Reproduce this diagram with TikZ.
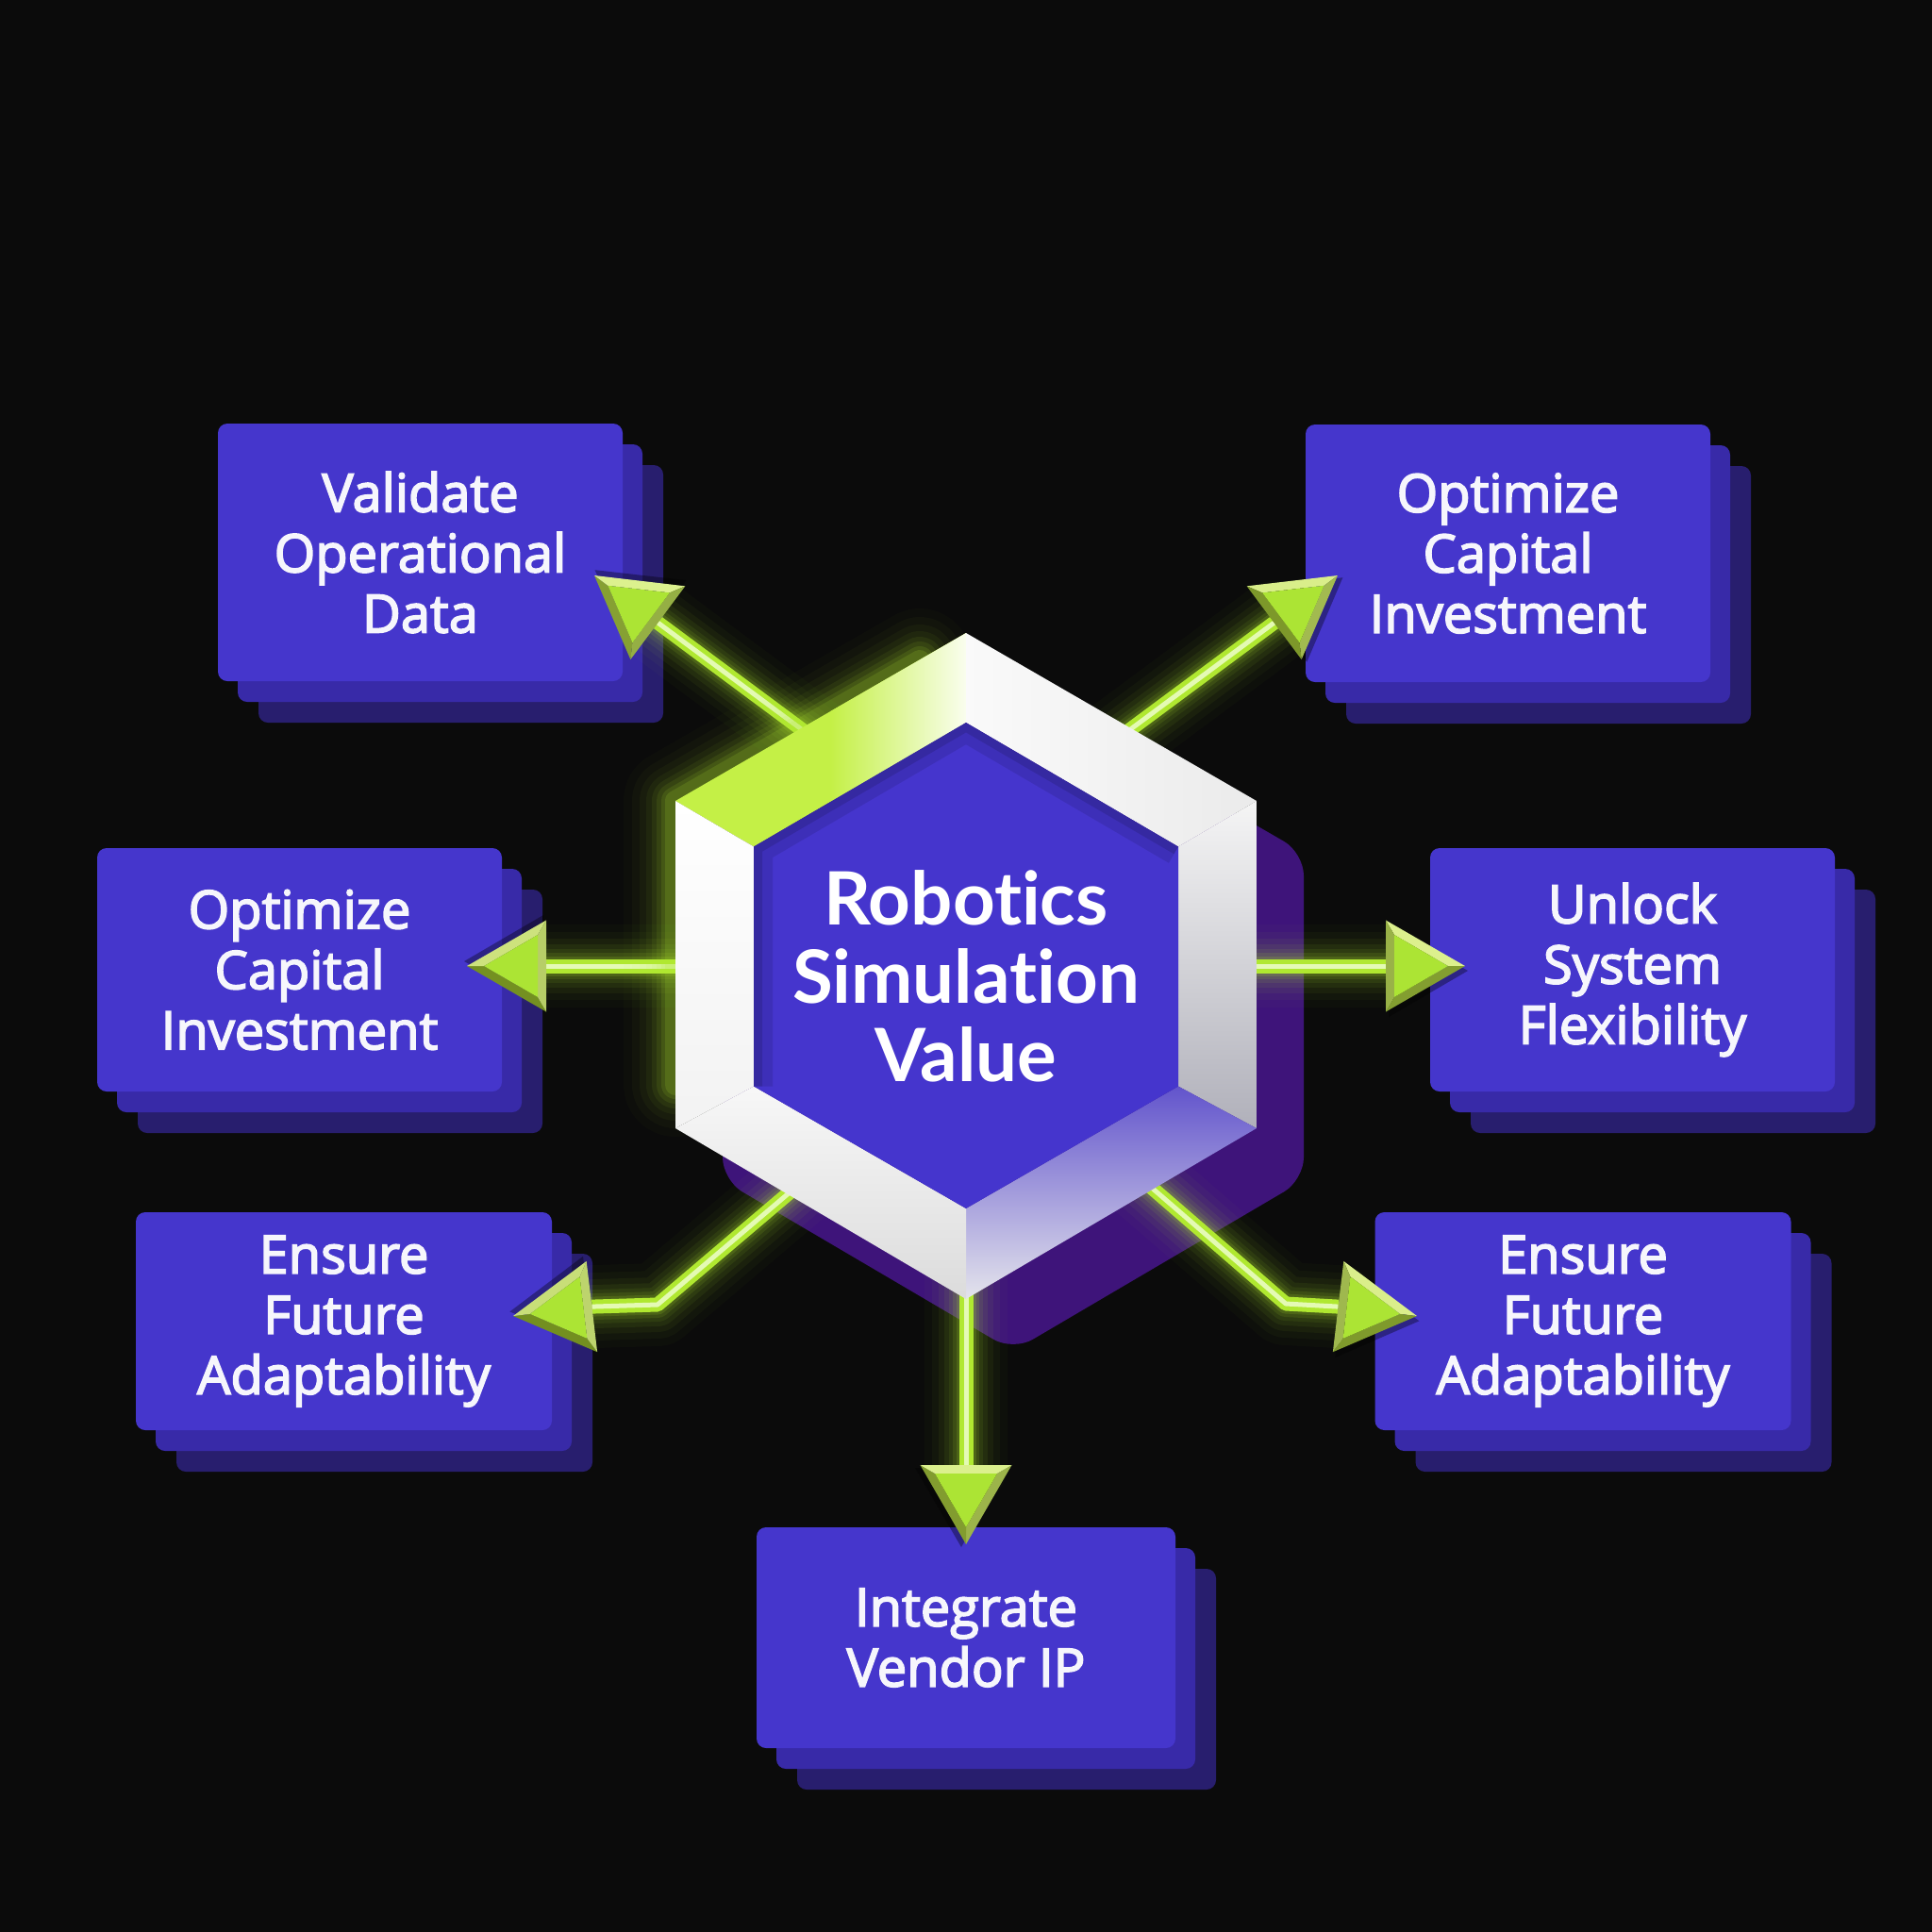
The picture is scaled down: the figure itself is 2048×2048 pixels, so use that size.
\documentclass[tikz,border=0pt]{standalone}
\usepackage{fontspec}
\setmainfont{Open Sans}
\newfontfamily\titlefont{Lato}[Ligatures={NoCommon,NoRequired,NoContextual}]
\newfontfamily\cardfont{Open Sans}[FakeBold=3]
\usetikzlibrary{calc}
\definecolor{bg}{RGB}{11,11,11}
\definecolor{cardA}{RGB}{69,54,204}
\definecolor{cardB}{RGB}{56,42,168}
\definecolor{cardC}{RGB}{40,30,110}
\definecolor{cardtext}{RGB}{246,246,252}
\definecolor{hexface}{RGB}{69,53,205}
\definecolor{hexshadow}{RGB}{62,20,122}
\definecolor{lime}{RGB}{176,232,48}
\definecolor{limeH}{RGB}{196,240,70}
\definecolor{limecore}{RGB}{228,250,180}
\definecolor{arrF}{RGB}{172,228,52}
\definecolor{arrL}{RGB}{228,248,150}
\definecolor{arrD}{RGB}{108,136,24}
\tikzset{
  card/.style={fill=cardA, rounded corners=10pt, text=cardtext, align=center,
    inner sep=0pt, font=\cardfont\fontsize{56}{64}\selectfont},
  hubtext/.style={text=white, align=center, inner sep=0pt,
    font=\titlefont\bfseries\fontsize{78}{83}\selectfont},
}
% name, cx, cy, w, h, text
\newcommand\card[6]{%
  \fill[cardC,rounded corners=10pt] ({#2-#4/2+43},{#3-#5/2+44}) rectangle ({#2+#4/2+43},{#3+#5/2+44});
  \fill[cardB,rounded corners=10pt] ({#2-#4/2+21},{#3-#5/2+22}) rectangle ({#2+#4/2+21},{#3+#5/2+22});
  \node[card,minimum width=#4pt,minimum height=#5pt] (#1) at (#2,#3) {#6};}
\newcommand\neon[1]{%
  \foreach \w/\o in {88/0.025,72/0.035,58/0.05,46/0.065,36/0.08,28/0.11,21/0.15}{%
    \draw[lime,line width=\w pt,opacity=\o,line cap=round,line join=round] #1;}
  \draw[lime,line width=15pt,line join=round] #1;
  \draw[limecore,line width=5pt,line join=round] #1;}
% tip coordinate, angle (image frame, clockwise)
\newcommand\arrowhead[2]{%
  \begin{scope}[shift={(#1)},rotate=-#2]
    \pgfmathsetmacro\La{max(0,min(100,50*(1-0.85*sin(#2-60)+0.25*cos(#2-60))))}
    \pgfmathsetmacro\Lb{max(0,min(100,50*(1-0.85*sin(#2+60)+0.25*cos(#2+60))))}
    \pgfmathsetmacro\Lc{max(0,min(100,50*(1-0.85*sin(#2+180)+0.25*cos(#2+180))))}
    \fill[black,opacity=0.35] (3,5) -- (-81,-43) -- (-81,54) -- cycle;
    \fill[arrL!\La!arrD] (0,0) -- (-84,-48.5) -- (-75,-33) -- (-18,0) -- cycle;
    \fill[arrL!\Lb!arrD] (0,0) -- (-84,48.5) -- (-75,33) -- (-18,0) -- cycle;
    \fill[arrL!\Lc!arrD] (-84,-48.5) -- (-84,48.5) -- (-75,33) -- (-75,-33) -- cycle;
    \fill[arrF] (-18,0) -- (-75,-33) -- (-75,33) -- cycle;
  \end{scope}}
\begin{document}
\begin{tikzpicture}[x=1pt,y=-1pt]
\fill[bg] (0,0) rectangle (2048,2048);
\useasboundingbox (0,0) rectangle (2048,2048);

% ---- cards
\card{b1}{445.5}{585.5}{429}{273}{Validate\\Operational\\Data}
\card{b2}{1598.5}{586.5}{429}{273}{Optimize\\Capital\\Investment}
\card{b3}{317.5}{1028}{429}{258}{Optimize\\Capital\\Investment}
\card{b4}{1730.5}{1028}{429}{258}{Unlock\\System\\Flexibility}
\card{b5}{364.5}{1400.5}{441}{231}{Ensure\\Future\\Adaptability}
\card{b6}{1678}{1400.5}{441}{231}{Ensure\\Future\\Adaptability}
\card{b7}{1024}{1736}{444}{234}{Integrate\\Vendor IP}

% ---- hexagon geometry
\coordinate (HT) at (1024,671);  \coordinate (HUR) at (1332,849);
\coordinate (HLR) at (1332,1196); \coordinate (HB) at (1024,1377);
\coordinate (HLL) at (716,1196); \coordinate (HUL) at (716,849);
\coordinate (hT) at (1024,766);  \coordinate (hUR) at (1249,897.5);
\coordinate (hLR) at (1249,1151.5); \coordinate (hB) at (1024,1281);
\coordinate (hLL) at (799,1151.5); \coordinate (hUL) at (799,897.5);
\coordinate (gA) at (716,1150); \coordinate (gB) at (975,700);

% shadow
\fill[hexshadow,rounded corners=24pt] (1074,726) -- (1382,904) -- (1382,1251) -- (1074,1432) -- (766,1251) -- (766,904) -- cycle;

% ---- connector coordinates
\coordinate (s1) at (898,809);   \coordinate (e1) at (697.4,660.1); \coordinate (t1) at (630,610);
\coordinate (s2) at (1150,809);  \coordinate (e2) at (1350.6,660.1); \coordinate (t2) at (1418,610);
\coordinate (s3) at (760,1024);  \coordinate (e3) at (579,1024);   \coordinate (t3) at (495,1024);
\coordinate (s4) at (1288,1024); \coordinate (e4) at (1469,1024);  \coordinate (t4) at (1553,1024);
\coordinate (s5) at (870,1236);  \coordinate (k5) at (697,1383);   \coordinate (e5) at (627.4,1385.1); \coordinate (t5) at (544,1395);
\coordinate (s6) at (1185,1228); \coordinate (k6) at (1363,1382);  \coordinate (e6) at (1418.6,1385.1); \coordinate (t6) at (1502,1395);
\coordinate (s7) at (1024,1330); \coordinate (e7) at (1024,1553);  \coordinate (t7) at (1024,1637);

\neon{(s1) -- (e1)}
\neon{(s2) -- (e2)}
\neon{(s3) -- (e3)}
\neon{(s4) -- (e4)}
\neon{(s5) -- (k5) -- (e5)}
\neon{(s6) -- (k6) -- (e6)}
\neon{(s7) -- (e7)}

% hexagon glow
\foreach \w/\o in {110/0.02,92/0.03,76/0.04,62/0.05,50/0.07,40/0.09,30/0.12,22/0.15}{%
  \draw[lime,line width=\w pt,opacity=\o,line cap=round,line join=round] (gA) -- (HUL) -- (gB);}

% ---- hexagon bevel
\fill[limeH] (HUL) -- (HT) -- (hT) -- (hUL) -- cycle;
\begin{scope}
  \clip (HUL) -- (HT) -- (hT) -- (hUL) -- cycle;
  \shade[left color=limeH, middle color=limeH!55!white, right color=limeH!8!white] (880,660) rectangle (1026,900);
\end{scope}
\shade[left color=white!98!black, right color=white!92!black] (HT) -- (HUR) -- (hUR) -- (hT) -- cycle;
\shade[top color=white!96!black, bottom color={rgb,255:red,176;green,176;blue,186}] (HUR) -- (HLR) -- (hLR) -- (hUR) -- cycle;
\shade[top color={rgb,255:red,98;green,84;blue,204}, bottom color={rgb,255:red,228;green,228;blue,236}] (HLR) -- (HB) -- (hB) -- (hLR) -- cycle;
\shade[top color=white!97!black, bottom color=white!86!black] (HB) -- (HLL) -- (hLL) -- (hB) -- cycle;
\shade[top color=white, bottom color=white!95!black] (HLL) -- (HUL) -- (hUL) -- (hLL) -- cycle;
\fill[hexface] (hT) -- (hUR) -- (hLR) -- (hB) -- (hLL) -- (hUL) -- cycle;
\begin{scope}
  \clip (hT) -- (hUR) -- (hLR) -- (hB) -- (hLL) -- (hUL) -- cycle;
  \draw[black,opacity=0.10,line width=40pt,line join=round] (hLL) -- (hUL) -- (hT) -- (hUR);
  \draw[black,opacity=0.12,line width=18pt,line join=round] (hLL) -- (hUL) -- (hT) -- (hUR);
\end{scope}
\node[hubtext] (hub) at (1024,1035) {Robotics\\Simulation\\Value};

% ---- arrowheads
\arrowhead{t1}{216.7}
\arrowhead{t2}{323.3}
\arrowhead{t3}{180}
\arrowhead{t4}{0}
\arrowhead{t5}{173.2}
\arrowhead{t6}{6.8}
\arrowhead{t7}{90}
\end{tikzpicture}
\end{document}
